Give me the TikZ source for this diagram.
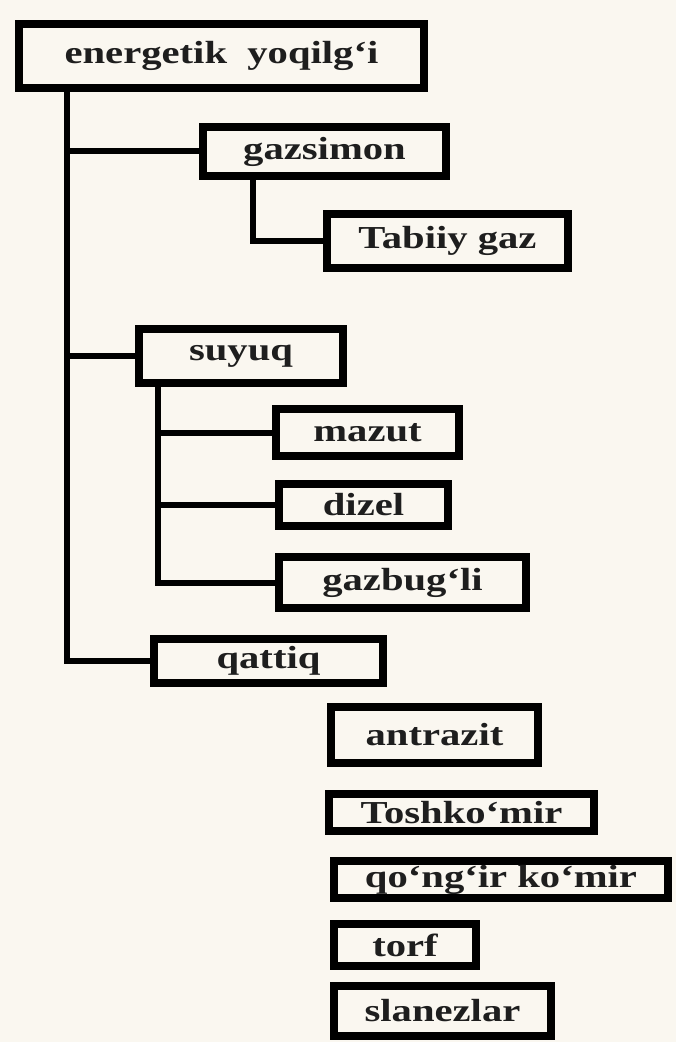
\documentclass[tikz,border=0pt]{standalone}
\usepackage{fontspec}
\newfontfamily\boxfont{Liberation Serif}[FakeStretch=1.27]
\usetikzlibrary{calc}
\definecolor{paper}{RGB}{250,247,240}
\definecolor{ink}{RGB}{30,30,30}

\begin{document}
\begin{tikzpicture}[x=0.5pt,y=-0.5pt,
  fuel/.style={draw=black,line width=4pt,fill=paper,inner sep=0pt,text=ink,
    font=\boxfont\bfseries\fontsize{16pt}{19pt}\selectfont},
  boxsize/.style 2 args={minimum width=#1*0.5pt,minimum height=#2*0.5pt},
  link/.style={line width=3pt}]
\fill[paper] (0,0) rectangle (676,1042);

% Top: fuel class
\node[fuel,boxsize={405}{64}] (top) at (221.5,56) {energetik\ \ yoqilg‘i};

% Gas branch
\node[fuel,boxsize={243}{49}] (gas) at (324.5,151.5) {gazsimon};
\node[fuel,boxsize={241}{54}] (natgas) at (447.5,241) {Tabiiy gaz};

% Liquid branch
\node[fuel,boxsize={204}{54}] (liquid) at (241,356) {suyuq};
\node[fuel,boxsize={183}{47}] (mazut) at (367.5,432.5) {mazut};
\node[fuel,boxsize={169}{42}] (diesel) at (363.5,505) {dizel};
\node[fuel,boxsize={247}{51}] (gasoil) at (402.5,582.5) {gazbug‘li};

% Solid branch
\node[fuel,boxsize={229}{44}] (solid) at (268.5,661) {qattiq};
\node[fuel,boxsize={207}{56}] (anthracite) at (434.5,735) {antrazit};
\node[fuel,boxsize={265}{37}] (coal) at (461.5,812.5) {Toshko‘mir};
\node[fuel,boxsize={334}{37}] (lignite) at (501,879.5) {qo‘ng‘ir ko‘mir};
\node[fuel,boxsize={142}{42}] (peat) at (405,945) {torf};
\node[fuel,boxsize={217}{50}] (shale) at (442.5,1011) {slanezlar};

% Connectors
\coordinate (trunk) at (67,0);
\coordinate (gastrunk) at (253,0);
\coordinate (liqtrunk) at (158,0);
\draw[link] (trunk |- top.south) |- (solid.west);
\draw[link] (trunk |- gas.west) -- (gas.west);
\draw[link] (trunk |- liquid.west) -- (liquid.west);
\draw[link] (gastrunk |- gas.south) |- (natgas.west);
\draw[link] (liqtrunk |- liquid.south) |- (gasoil.west);
\draw[link] (liqtrunk |- mazut.west) -- (mazut.west);
\draw[link] (liqtrunk |- diesel.west) -- (diesel.west);
\end{tikzpicture}
\end{document}
